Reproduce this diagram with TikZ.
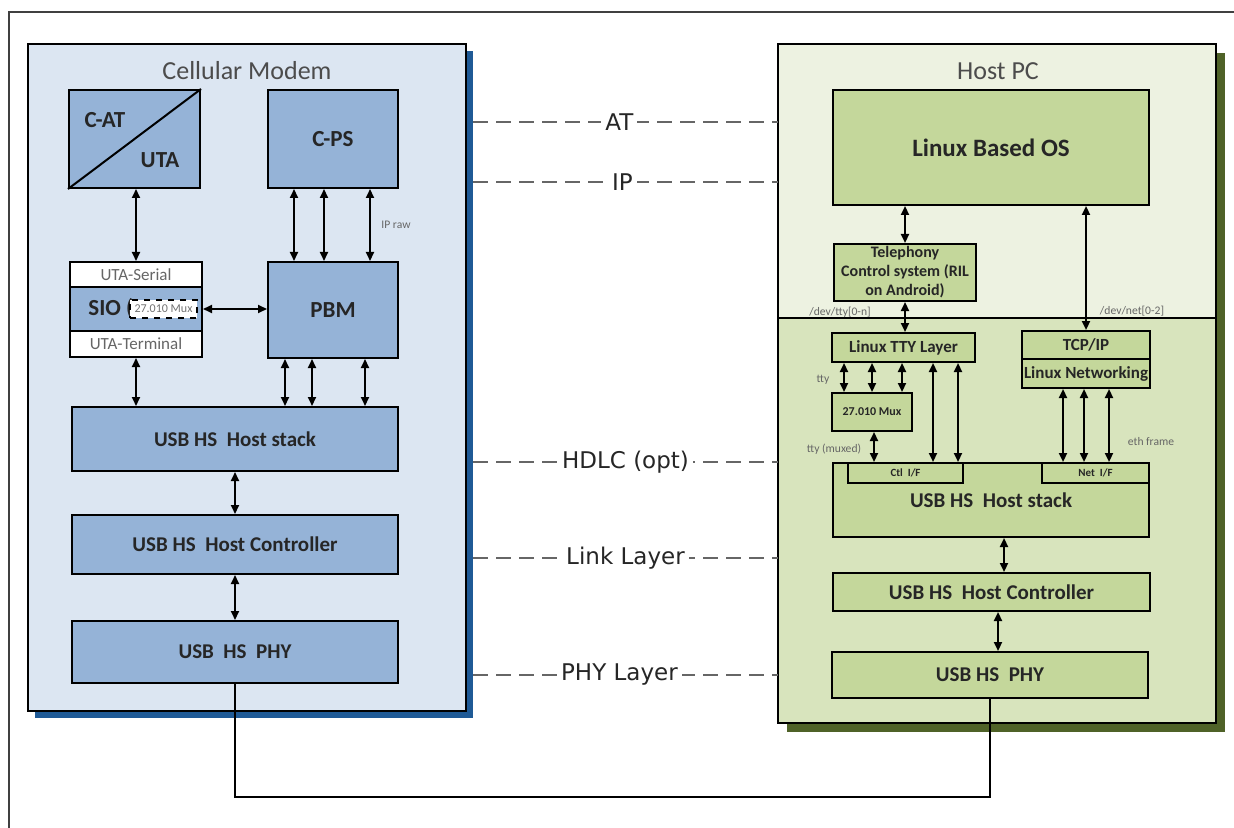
\documentclass[tikz,border=0pt]{standalone}
\usepackage{fontspec}
\setmainfont{Carlito}
\newfontfamily\layerfont{DejaVu Sans}
\usetikzlibrary{arrows.meta}

\definecolor{modembg}{HTML}{DCE6F2}
\definecolor{modembox}{HTML}{95B3D7}
\definecolor{modemshade}{HTML}{1F5A96}
\definecolor{pcbg}{HTML}{EDF2E1}
\definecolor{pcbglow}{HTML}{D8E4BD}
\definecolor{pcbox}{HTML}{C4D79B}
\definecolor{pcshade}{HTML}{4F6228}

\begin{document}
\begin{tikzpicture}
  [
    x = 0.5pt, y = -0.5pt,
    every node/.style = {inner sep = 0pt, text = black!85},
    wh/.style 2 args = {minimum width = #1pt, minimum height = #2pt},
    panel/.style = {draw, line width = 1pt},
    title/.style = {text = black!70, font = \fontsize{13}{15}\selectfont},
    blk/.style = {draw, line width = 1pt},
    blkb/.style = {blk, fill = modembox, font = \bfseries\fontsize{10.5}{12}\selectfont},
    bigb/.style = {blkb, font = \bfseries\fontsize{11.5}{13}\selectfont},
    blkw/.style = {blk, fill = white, text = black!60, font = \fontsize{8.5}{10}\selectfont},
    blkg/.style = {blk, fill = pcbox, font = \bfseries\fontsize{10.5}{12}\selectfont},
    smallg/.style = {blkg, font = \bfseries\fontsize{8.5}{10}\selectfont},
    tinyg/.style = {blkg, font = \bfseries\fontsize{6}{7}\selectfont},
    note/.style = {text = black!60, font = \fontsize{5.8}{7}\selectfont},
    dbl/.style = {{Triangle[length=4.5pt, width=4pt]}-{Triangle[length=4.5pt, width=4pt]}, line width = 1pt},
    layerline/.style = {draw = black!60, line width = 0.8pt, dash pattern = on 7.5pt off 4pt},
    layerlabel/.style = {fill = white, inner xsep = 2pt, inner ysep = 1pt, text = black!85,
                         font = \layerfont\fontsize{11.5}{13}\selectfont},
    cable/.style = {line width = 1.2pt}
  ]
  \useasboundingbox (0,0) rectangle (1234,828);
  \draw[line width = 1pt, black!75] (9,828) -- (9,12) -- (1234,12);

  % Cellular modem side
  \node[fill = modemshade, wh = {219}{333.5}] (modemshadow) at (254,384.5) {};
  \node[panel, fill = modembg, wh = {219}{333.5}] (modem) at (247,377.5) {};
  \node[title] (modemname) at (247,71) {Cellular Modem};

  \node[blkb, wh = {65.5}{49}] (cat) at (134.5,139) {};
  \draw[line width = 1pt] (cat.south west) -- (cat.north east);
  \node[font = \bfseries\fontsize{11.5}{13}\selectfont] (catname) at (105,120) {C-AT};
  \node[font = \bfseries\fontsize{11.5}{13}\selectfont] (utaname) at (160,160) {UTA};
  \node[bigb, wh = {65}{49}] (cps) at (333,139) {C-PS};

  \node[blkw, wh = {66}{12.5}] (serial) at (136,274.5) {UTA-Serial};
  \node[blkb, wh = {66}{22}] (sio) at (136,309) {};
  \node[anchor = west, font = \bfseries\fontsize{11.5}{13}\selectfont] (sioname) at (88,309) {SIO (};
  \node[fill = white, draw, dashed, line width = 1pt, text = black!55,
        font = \fontsize{6}{7}\selectfont, wh = {33.5}{9}] (siomux) at (163.5,309) {27.010 Mux};
  \node[blkw, wh = {66}{13}] (terminal) at (136,344) {UTA-Terminal};
  \node[bigb, wh = {65}{48}] (pbm) at (333,310) {PBM};

  \node[blkb, wh = {163}{32}] (stackb) at (235,439) {USB HS\ \ Host stack};
  \node[blkb, wh = {163}{29.5}] (ctrlb) at (235,544.5) {USB HS\ \ Host Controller};
  \node[blkb, wh = {163}{31}] (phyb) at (235,652) {USB\ \ HS\ \ PHY};

  \draw[dbl] (cat.south -| 136,0) -- (serial.north -| 136,0);
  \draw[dbl] (cps.south -| 294,0) -- (pbm.north -| 294,0);
  \draw[dbl] (cps.south -| 324,0) -- (pbm.north -| 324,0);
  \draw[dbl] (cps.south -| 370,0) -- (pbm.north -| 370,0);
  \node[note] (ipraw) at (396,225) {IP raw};
  \draw[dbl] (sio.east) -- (pbm.west |- sio.east);
  \draw[dbl] (terminal.south -| 136,0) -- (stackb.north -| 136,0);
  \draw[dbl] (pbm.south -| 285,0) -- (stackb.north -| 285,0);
  \draw[dbl] (pbm.south -| 312,0) -- (stackb.north -| 312,0);
  \draw[dbl] (pbm.south -| 365,0) -- (stackb.north -| 365,0);
  \draw[dbl] (stackb.south) -- (ctrlb.north);
  \draw[dbl] (ctrlb.south) -- (phyb.north);

  % Host PC side
  \node[fill = pcshade, wh = {219}{339.5}] (hostshadow) at (1006,392.5) {};
  \node[fill = pcbg, wh = {219}{339.5}] (hostpc) at (997,383.5) {};
  \fill[pcbglow] (hostpc.west |- 0,318) rectangle (hostpc.south east);
  \draw[line width = 1pt] (hostpc.north west) rectangle (hostpc.south east);
  \draw[line width = 1pt] (hostpc.west |- 0,318) -- (hostpc.east |- 0,318);
  \node[title] (hostname) at (998,71) {Host PC};

  \node[blkg, font = \bfseries\fontsize{12.5}{14}\selectfont, wh = {158}{57.5}] (linuxos) at (991,147.5) {Linux Based OS};
  \node[blkg, align = center, font = \bfseries\fontsize{8}{9.5}\selectfont, wh = {71}{28.5}] (tele) at (905,272.5)
    {Telephony\\Control system (RIL\\on Android)};
  \node[smallg, wh = {71.5}{14.5}] (tty) at (903.5,347.5) {Linux TTY Layer};
  \node[smallg, wh = {64}{14}] (tcpip) at (1086,345) {TCP/IP};
  \node[smallg, wh = {64}{14.5}] (linnet) at (1086,373.5) {Linux Networking};
  \node[tinyg, wh = {40}{19}] (muxg) at (872,412) {27.010 Mux};

  \node[blkg, wh = {158}{37}] (stackg) at (991,500) {};
  \node[font = \bfseries\fontsize{10.5}{12}\selectfont] (stackname) at (991,500) {USB HS\ \ Host stack};
  \node[tinyg, font = \bfseries\fontsize{5.5}{6.5}\selectfont, wh = {57.5}{10}] (ctlif) at (905.5,473) {Ctl\ \ I/F};
  \node[tinyg, font = \bfseries\fontsize{5.5}{6.5}\selectfont, wh = {53.5}{10}] (netif) at (1095.5,473) {Net\ \ I/F};
  \node[blkg, wh = {158.5}{19}] (ctrlg) at (991.5,592) {USB HS\ \ Host Controller};
  \node[blkg, wh = {158}{23}] (phyg) at (990,675) {USB HS\ \ PHY};

  \draw[dbl] (linuxos.south -| tele.north) -- (tele.north);
  \draw[dbl] (linuxos.south -| tcpip.north) -- (tcpip.north);
  \node[note] (devtty) at (840,312) {/dev/tty[0-n]};
  \node[note] (devnet) at (1132,311) {/dev/net[0-2]};
  \draw[dbl] (tele.south) -- (tele.south |- tty.north);
  \draw[dbl] (tty.south -| 844,0) -- (muxg.north -| 844,0);
  \draw[dbl] (tty.south -| 872,0) -- (muxg.north -| 872,0);
  \draw[dbl] (tty.south -| 902,0) -- (muxg.north -| 902,0);
  \node[note] (ttyname) at (823,380) {tty};
  \draw[dbl] (muxg.south -| 874,0) -- (ctlif.north -| 874,0);
  \node[note] (ttymux) at (834,449) {tty (muxed)};
  \draw[dbl] (tty.south -| 933,0) -- (ctlif.north -| 933,0);
  \draw[dbl] (tty.south -| 958,0) -- (ctlif.north -| 958,0);
  \draw[dbl] (linnet.south -| 1063,0) -- (netif.north -| 1063,0);
  \draw[dbl] (linnet.south -| 1084,0) -- (netif.north -| 1084,0);
  \draw[dbl] (linnet.south -| 1109,0) -- (netif.north -| 1109,0);
  \node[note] (ethframe) at (1151,442) {eth frame};
  \draw[dbl] (stackg.south -| 1004,0) -- (ctrlg.north -| 1004,0);
  \draw[dbl] (ctrlg.south -| 998,0) -- (phyg.north -| 998,0);

  % layers between the two sides
  \draw[layerline] (modemshadow.east |- 0,122) -- (hostpc.west |- 0,122) node[layerlabel, pos = 0.48] {AT};
  \draw[layerline] (modemshadow.east |- 0,182) -- (hostpc.west |- 0,182) node[layerlabel, pos = 0.49] {IP};
  \draw[layerline] (modemshadow.east |- 0,462) -- (hostpc.west |- 0,462) node[layerlabel, pos = 0.5] {HDLC (opt)};
  \draw[layerline] (modemshadow.east |- 0,558) -- (hostpc.west |- 0,558) node[layerlabel, pos = 0.5] {Link Layer};
  \draw[layerline] (modemshadow.east |- 0,675) -- (hostpc.west |- 0,675) node[layerlabel, pos = 0.48] {PHY Layer};

  % USB cable
  \draw[cable] (phyb.south) -- (phyb.south |- 0,797) -| (phyg.south);
\end{tikzpicture}
\end{document}
